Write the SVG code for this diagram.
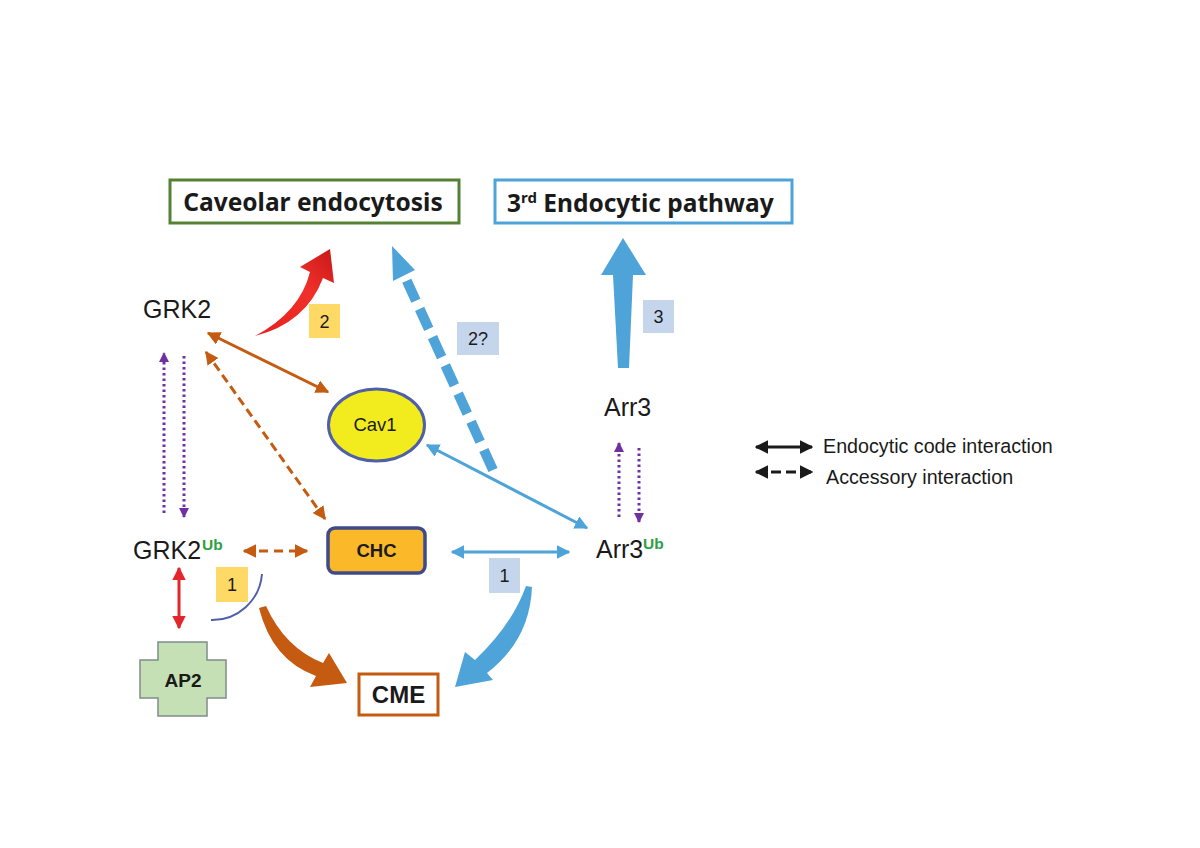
<svg xmlns="http://www.w3.org/2000/svg" width="1200" height="848" viewBox="0 0 1200 848">
<style>
.hdr{font-family:"Noto Sans","Liberation Sans",sans-serif;font-weight:bold;font-size:24.5px;fill:#1a1a1a}
.lbl{font-family:"Liberation Sans",Arial,sans-serif;font-size:25px;fill:#1a1a1a}
.bold{font-family:"Liberation Sans",Arial,sans-serif;font-weight:bold;fill:#1a1a1a}
.ub{font-family:"Liberation Sans",Arial,sans-serif;font-weight:bold;font-size:15.5px;fill:#2ea043}
.num{font-family:"Liberation Sans",Arial,sans-serif;font-size:18px;fill:#1a1a1a}
.leg{font-family:"Liberation Sans",Arial,sans-serif;font-size:19.7px;fill:#1a1a1a}
.or{stroke:#c55a11;stroke-width:3;fill:none}
.bl{stroke:#4ea3d8;stroke-width:3;fill:none}
.pu{stroke:#7030a0;stroke-width:3;fill:none;stroke-dasharray:2.5 3}
</style>
<defs>
<marker id="mOr" viewBox="0 0 10 10" refX="9" refY="5" markerWidth="4.5" markerHeight="4.5" orient="auto-start-reverse" markerUnits="strokeWidth"><path d="M0,0 L10,5 L0,10 Z" fill="#c55a11"/></marker>
<marker id="mBl" viewBox="0 0 10 10" refX="9" refY="5" markerWidth="4.5" markerHeight="4.5" orient="auto-start-reverse" markerUnits="strokeWidth"><path d="M0,0 L10,5 L0,10 Z" fill="#4ea3d8"/></marker>
<marker id="mRd" viewBox="0 0 10 10" refX="9" refY="5" markerWidth="4.5" markerHeight="4.5" orient="auto-start-reverse" markerUnits="strokeWidth"><path d="M0,0 L10,5 L0,10 Z" fill="#e3262b"/></marker>
<marker id="mPu" viewBox="0 0 10 10" refX="9" refY="5" markerWidth="3.5" markerHeight="3.5" orient="auto-start-reverse" markerUnits="strokeWidth"><path d="M0,0 L10,5 L0,10 Z" fill="#7030a0"/></marker>
<marker id="mBk" viewBox="0 0 10 10" refX="9" refY="5" markerWidth="4.5" markerHeight="4.5" orient="auto-start-reverse" markerUnits="strokeWidth"><path d="M0,0 L10,5 L0,10 Z" fill="#1a1a1a"/></marker>
<linearGradient id="gRed" x1="0" y1="1" x2="1" y2="0">
<stop offset="0" stop-color="#e82020"/><stop offset="0.6" stop-color="#f0302a"/><stop offset="1" stop-color="#c81818"/>
</linearGradient>
</defs>
<rect width="1200" height="848" fill="#ffffff"/>

<g id="caveolar">
<rect x="170" y="180" width="289" height="43" fill="#fff" stroke="#548235" stroke-width="3"/>
<text class="hdr" x="313" y="211" text-anchor="middle">Caveolar endocytosis</text>
</g>
<g id="third">
<rect x="495" y="180" width="297" height="43" fill="#fff" stroke="#4ea3d8" stroke-width="3"/>
<text class="hdr" x="507" y="212">3<tspan font-size="15" dy="-9">rd</tspan><tspan dy="9"> Endocytic pathway</tspan></text>
</g>
<g id="grk2"><text class="lbl" x="143" y="318">GRK2</text></g>
<g id="grk2ub"><text class="lbl" x="133" y="559">GRK2</text><text class="ub" x="202" y="550">Ub</text></g>
<g id="arr3"><text class="lbl" x="604" y="416">Arr3</text></g>
<g id="arr3ub"><text class="lbl" x="596" y="558">Arr3</text><text class="ub" x="643" y="549">Ub</text></g>
<g id="cav1">
<ellipse cx="376.5" cy="425" rx="48" ry="36" fill="#f2ec1e" stroke="#4f5fa8" stroke-width="3"/>
<text x="375" y="431" text-anchor="middle" font-family="Liberation Sans, Arial, sans-serif" font-size="18.5" fill="#1a1a1a">Cav1</text>
</g>
<g id="chc">
<rect x="328" y="528" width="97" height="45" rx="7" fill="#fbb829" stroke="#3f4a8a" stroke-width="3.5"/>
<text class="bold" x="376.5" y="557" text-anchor="middle" font-size="18.5">CHC</text>
</g>
<g id="ap2">
<path d="M158,642 L207,642 L207,660 L226,660 L226,698 L207,698 L207,716 L158,716 L158,698 L140,698 L140,660 L158,660 Z" fill="#c5e0b4" stroke="#7f8c8c" stroke-width="1.5"/>
<text class="bold" x="183" y="687" text-anchor="middle" font-size="19">AP2</text>
</g>
<g id="cme">
<rect x="359" y="674" width="79" height="41" fill="#fff" stroke="#c55a11" stroke-width="3"/>
<text class="bold" x="398.5" y="703" text-anchor="middle" font-size="24">CME</text>
</g>
<g id="labels">
<rect x="309" y="304" width="31" height="34" fill="#ffd966"/><text class="num" x="324.5" y="328" text-anchor="middle">2</text>
<rect x="457" y="322" width="42" height="33" fill="#c5d6ec"/><text class="num" x="478" y="345" text-anchor="middle">2?</text>
<rect x="643" y="300" width="31" height="33" fill="#c5d6ec"/><text class="num" x="658.5" y="323" text-anchor="middle">3</text>
<rect x="216" y="567" width="32" height="35" fill="#ffd966"/><text class="num" x="232" y="591" text-anchor="middle">1</text>
<rect x="489" y="558" width="31" height="35" fill="#c5d6ec"/><text class="num" x="504.5" y="582" text-anchor="middle">1</text>
</g>

<g id="connectors">
<path d="M255,336 Q300,312 310,272 L300,267 L330,249 L334,283 L323,278 Q306,323 255,336 Z" fill="url(#gRed)"/>
<line x1="493" y1="470" x2="406" y2="279" stroke="#4ea3d8" stroke-width="10" stroke-dasharray="22 9"/>
<path d="M392,246 L415,270 L393,281 Z" fill="#4ea3d8"/>
<path d="M623,238 L646,275 L633,275 L629,368 L618,368 L613,275 L601,275 Z" fill="#4ea3d8"/>
<line class="or" x1="208" y1="333" x2="328" y2="392" marker-start="url(#mOr)" marker-end="url(#mOr)"/>
<line class="or" x1="206" y1="352" x2="325" y2="519" stroke-dasharray="9 5" marker-start="url(#mOr)" marker-end="url(#mOr)"/>
<line class="or" x1="244" y1="551" x2="307" y2="551" stroke-dasharray="9 6" marker-start="url(#mOr)" marker-end="url(#mOr)"/>
<line class="pu" x1="164" y1="513" x2="164" y2="353" marker-end="url(#mPu)"/>
<line class="pu" x1="184" y1="356" x2="184" y2="517" marker-end="url(#mPu)"/>
<line class="pu" x1="619" y1="517" x2="619" y2="443" marker-end="url(#mPu)"/>
<line class="pu" x1="639" y1="448" x2="639" y2="522" marker-end="url(#mPu)"/>
<line class="bl" x1="427" y1="445" x2="587" y2="528" marker-start="url(#mBl)" marker-end="url(#mBl)"/>
<line class="bl" x1="452" y1="552" x2="569" y2="552" marker-start="url(#mBl)" marker-end="url(#mBl)"/>
<line x1="179" y1="568" x2="179" y2="628" stroke="#e3262b" stroke-width="3" marker-start="url(#mRd)" marker-end="url(#mRd)"/>
<path d="M262,574 A50,50 0 0 1 211,620" fill="none" stroke="#4f5fa8" stroke-width="2"/>
<path d="M266,606 Q285,648 323,663 L329,653 L347,683 L310,687 L316,676 Q272,660 259,608 Z" fill="#c55a11"/>
<path d="M532,587 Q530,640 487,673 L493,680 L455,687 L465,652 L475,660 Q512,625 526,586 Z" fill="#4ea3d8"/>
</g>

<g id="legend">
<line x1="756" y1="447" x2="812" y2="447" stroke="#1a1a1a" stroke-width="3" marker-start="url(#mBk)" marker-end="url(#mBk)"/>
<line x1="756" y1="472" x2="812" y2="472" stroke="#1a1a1a" stroke-width="3" stroke-dasharray="10 5" marker-start="url(#mBk)" marker-end="url(#mBk)"/>
<text class="leg" x="823" y="453">Endocytic code interaction</text>
<text class="leg" x="826" y="484">Accessory interaction</text>
</g>
</svg>
